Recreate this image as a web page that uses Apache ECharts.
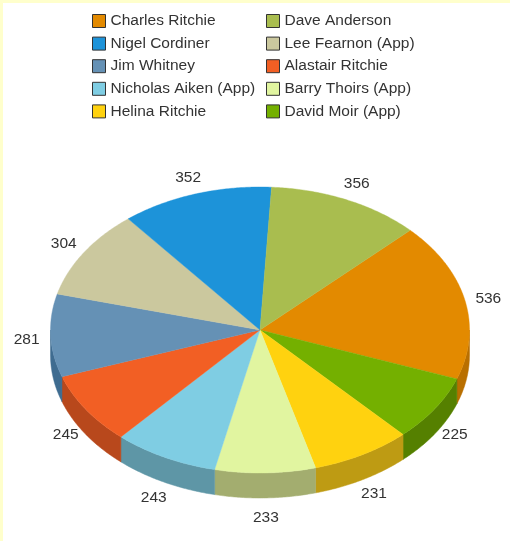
<!DOCTYPE html>
<html>
<head>
<meta charset="utf-8">
<style>
html, body { margin: 0; padding: 0; background: #fff; }
#chart { width: 510px; height: 541px; }
</style>
<script src="https://cdn.jsdelivr.net/npm/echarts@6/dist/echarts.min.js"></script>
</head>
<body>
<div id="chart"></div>
<script>
// Slices in clockwise drawing order.
const names = ['Charles Ritchie', 'David Moir (App)', 'Helina Ritchie', 'Barry Thoirs (App)', 'Nicholas Aiken (App)',
               'Alastair Ritchie', 'Jim Whitney', 'Lee Fearnon (App)', 'Nigel Cordiner', 'Dave Anderson'];
const values = [536, 225, 231, 233, 243, 245, 281, 304, 352, 356];
const topColors = ['#E38A00', '#74B000', '#FFD20F', '#E1F5A0', '#7FCDE3', '#F25F24', '#6591B5', '#CBC89E', '#1D93D9', '#A9BD4F'];
const wallColors = ['#B96F00', '#558000', '#BE9B13', '#A3AD6F', '#5E96A6', '#B8481C', '#3F6C90', '#98957A', '#156EA3', '#7F8E3B'];
const legendLeft = ['Charles Ritchie', 'Nigel Cordiner', 'Jim Whitney', 'Nicholas Aiken (App)', 'Helina Ritchie'];
const legendRight = ['Dave Anderson', 'Lee Fearnon (App)', 'Alastair Ritchie', 'Barry Thoirs (App)', 'David Moir (App)'];

// Projected pie: an ellipse with an extruded front rim.
const pie = { cx: 260, cy: 330, rx: 209.5, ry: 143, depth: 25, startDeg: 44.2 };
const total = values.reduce((a, b) => a + b, 0);
const textFont = '"Liberation Sans", Arial, sans-serif';

function ellipsePoint(deg, dy) {
  const t = deg * Math.PI / 180;
  return [pie.cx + pie.rx * Math.cos(t), pie.cy - pie.ry * Math.sin(t) + dy];
}

function sliceRange(index) {
  let used = 0;
  for (let i = 0; i < index; i++) used += values[i];
  const from = pie.startDeg - used / total * 360;
  return [from, from - values[index] / total * 360];
}

function arc(from, to, dy) {
  const pts = [];
  const steps = Math.max(2, Math.ceil(Math.abs(to - from) * 2));
  for (let s = 0; s <= steps; s++) pts.push(ellipsePoint(from + (to - from) * s / steps, dy));
  return pts;
}

function renderSlice(index) {
  return function (params, api) {
    const [from, to] = sliceRange(index);
    const children = [];

    // Rim: only the part of the slice facing the viewer (sin < 0).
    if (to < 0 && from > -180) {
      const a = Math.min(from, 0);
      const b = Math.max(to, -180);
      children.push({
        type: 'polygon',
        shape: { points: arc(a, b, 0).concat(arc(b, a, pie.depth)) },
        style: { fill: wallColors[index], stroke: wallColors[index], lineWidth: 0.5 }
      });
    }

    // Top face.
    children.push({
      type: 'polygon',
      shape: { points: [[pie.cx, pie.cy]].concat(arc(from, to, 0)) },
      style: { fill: topColors[index], stroke: topColors[index], lineWidth: 0.4 }
    });

    // Value label, pushed outward along the slice's mid angle.
    const mid = (from + to) / 2 * Math.PI / 180;
    const sin = Math.sin(mid);
    const lx = pie.cx + (pie.rx + 24) * Math.cos(mid);
    const ly = pie.cy - (pie.ry + (sin < 0 ? 42 : 20)) * sin + 2.5;
    children.push({
      type: 'text',
      style: {
        x: lx, y: ly, text: String(api.value(0)),
        fill: '#333', font: '15.5px ' + textFont,
        align: 'center', verticalAlign: 'middle'
      }
    });
    return { type: 'group', children: children };
  };
}

const legendBase = {
  orient: 'vertical', itemWidth: 13, itemHeight: 13, itemGap: 6.6, padding: 0,
  icon: 'rect', selectedMode: false,
  textStyle: { color: '#333', fontSize: 15.5, fontFamily: textFont },
  itemStyle: { borderColor: '#333', borderWidth: 1 }
};

const chart = echarts.init(document.getElementById('chart'), null, { renderer: 'canvas' });
chart.setOption({
  animation: false,
  backgroundColor: '#ffffff',
  legend: [
    Object.assign({}, legendBase, { left: 92, top: 13, data: legendLeft }),
    Object.assign({}, legendBase, { left: 266, top: 13, data: legendRight })
  ],
  graphic: [
    { type: 'rect', shape: { x: 0, y: 0, width: 510, height: 3 }, style: { fill: '#FFFFCC' }, silent: true },
    { type: 'rect', shape: { x: 0, y: 0, width: 3, height: 541 }, style: { fill: '#FFFFCC' }, silent: true }
  ],
  series: names.map(function (name, i) {
    return {
      type: 'custom',
      name: name,
      coordinateSystem: 'none',
      itemStyle: { color: topColors[i] },
      silent: true,
      data: [[values[i]]],
      renderItem: renderSlice(i)
    };
  })
});
</script>
</body>
</html>
